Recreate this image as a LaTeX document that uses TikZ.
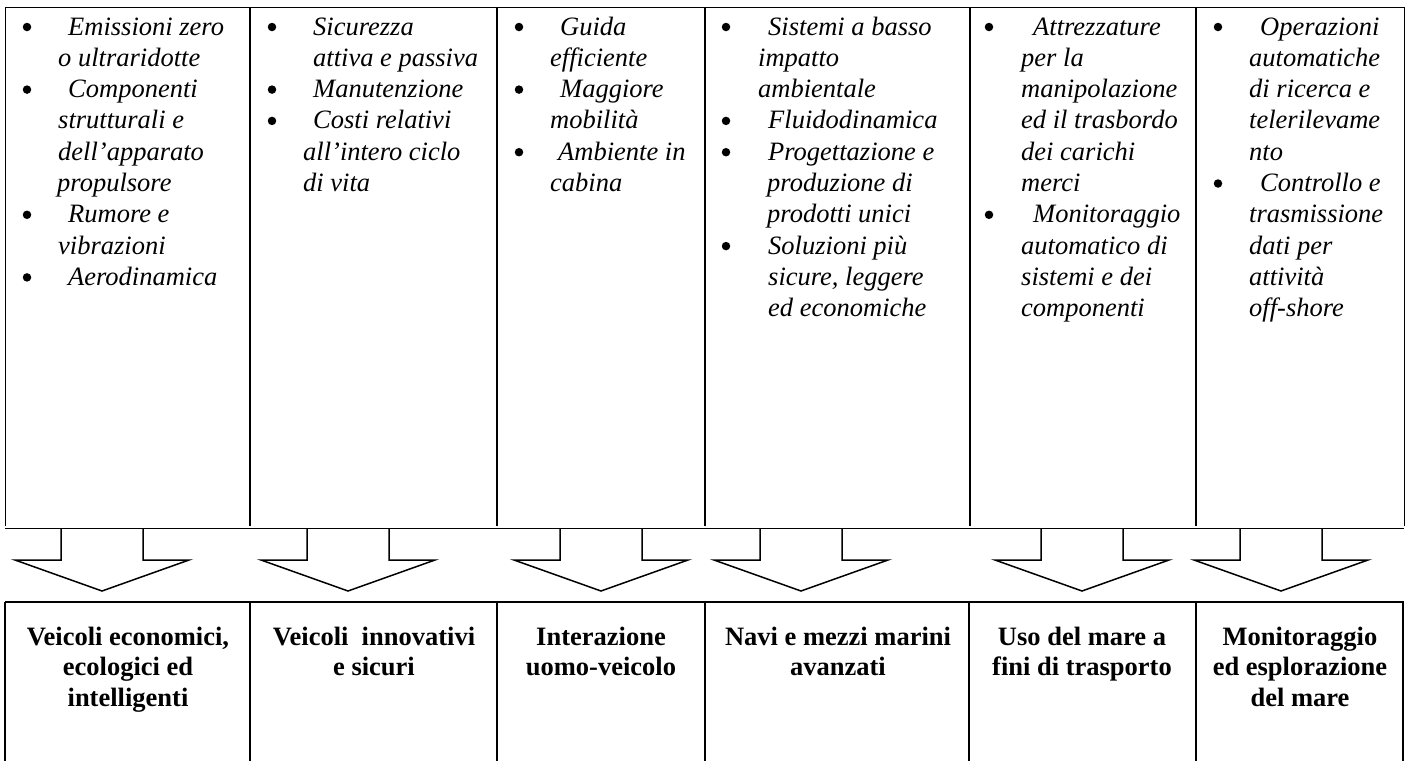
\documentclass[tikz,border=0pt]{standalone}
\usepackage{fontspec}
\setmainfont{Liberation Serif}
\newcommand{\itline}[4]{\node[itxt] (#1) at (#2,#3) {#4};}
\newcommand{\bulat}[3]{\node[bul] (#1) at (#2,#3-8) {};}
\newcommand{\bdline}[4]{\node[btxt] (#1) at (#2,#3) {#4};}
\begin{document}
\begin{tikzpicture}[x=1pt,y=-1pt,
 itxt/.style={anchor=base west,inner sep=0pt,font=\fontsize{26.5}{31}\selectfont\itshape},
 btxt/.style={anchor=base,inner sep=0pt,font=\fontsize{26.5}{31}\selectfont\bfseries},
 bul/.style={circle,fill=black,inner sep=0pt,minimum size=8.5pt},
 thinrule/.style={line width=1pt},
 seprule/.style={line width=2pt},
 blockarrow/.style={draw,line width=1.5pt,fill=white,line join=miter}]
\useasboundingbox (0,0) rectangle (1409,761);
% block arrows
\foreach \c [count=\i] in {102,348,601,801,1082,1281} {
  \coordinate (a\i) at (\c,591);
  \draw[blockarrow] (\c-41,528) -- (\c-41,560) -- (\c-87,560) -- (a\i) -- (\c+87,560) -- (\c+41,560) -- (\c+41,528);
}
% upper table
\draw[thinrule] (5,7) -- (1404,7);
\draw[thinrule] (5,528) -- (1404,528);
\draw[thinrule] (5,7) -- (5,526);
\draw[thinrule] (1404,7) -- (1404,526);
\foreach \x in {250,497,705,970,1196} \draw[seprule] (\x,7) -- (\x,526);
% lower table
\draw[seprule] (5,602) -- (1404,602);
\foreach \x in {5,250,497,705,969,1196,1403} \draw[seprule] (\x,602) -- (\x,761);
% column 1
\bulat{b11}{27}{35} \itline{c1l1}{68}{35}{Emissioni zero}
\itline{c1l2}{58}{66.3}{o ultraridotte}
\bulat{b12}{27}{97.6} \itline{c1l3}{68}{97.6}{Componenti}
\itline{c1l4}{58}{128.9}{strutturali e}
\itline{c1l5}{58}{160.2}{dell’apparato}
\itline{c1l6}{57}{191.5}{propulsore}
\bulat{b13}{27}{222.8} \itline{c1l7}{68}{222.8}{Rumore e}
\itline{c1l8}{58}{254.1}{vibrazioni}
\bulat{b14}{27}{285.4} \itline{c1l9}{68}{285.4}{Aerodinamica}
% column 2
\bulat{b21}{272}{35} \itline{c2l1}{313}{35}{Sicurezza}
\itline{c2l2}{313}{66.3}{attiva e passiva}
\bulat{b22}{272}{97.6} \itline{c2l3}{313}{97.6}{Manutenzione}
\bulat{b23}{272}{128.9} \itline{c2l4}{313}{128.9}{Costi relativi}
\itline{c2l5}{303}{160.2}{all’intero ciclo}
\itline{c2l6}{303}{191.5}{di vita}
% column 3
\bulat{b31}{519}{35} \itline{c3l1}{560}{35}{Guida}
\itline{c3l2}{550}{66.3}{efficiente}
\bulat{b32}{519}{97.6} \itline{c3l3}{560}{97.6}{Maggiore}
\itline{c3l4}{550}{128.9}{mobilità}
\bulat{b33}{519}{160.2} \itline{c3l5}{558}{160.2}{Ambiente in}
\itline{c3l6}{550}{191.5}{cabina}
% column 4
\bulat{b41}{726}{35} \itline{c4l1}{768}{35}{Sistemi a basso}
\itline{c4l2}{758}{66.3}{impatto}
\itline{c4l3}{758}{97.6}{ambientale}
\bulat{b42}{726}{128.9} \itline{c4l4}{768}{128.9}{Fluidodinamica}
\bulat{b43}{726}{160.2} \itline{c4l5}{768}{160.2}{Progettazione e}
\itline{c4l6}{767}{191.5}{produzione di}
\itline{c4l7}{767}{222.8}{prodotti unici}
\bulat{b44}{726}{254.1} \itline{c4l8}{768}{254.1}{Soluzioni più}
\itline{c4l9}{768}{285.4}{sicure, leggere}
\itline{c4l10}{768}{316.7}{ed economiche}
% column 5
\bulat{b51}{989}{35} \itline{c5l1}{1033}{35}{Attrezzature}
\itline{c5l2}{1021}{66.3}{per la}
\itline{c5l3}{1021}{97.6}{manipolazione}
\itline{c5l4}{1021}{128.9}{ed il trasbordo}
\itline{c5l5}{1021}{160.2}{dei carichi}
\itline{c5l6}{1021}{191.5}{merci}
\bulat{b52}{989}{222.8} \itline{c5l7}{1033}{222.8}{Monitoraggio}
\itline{c5l8}{1021}{254.1}{automatico di}
\itline{c5l9}{1021}{285.4}{sistemi e dei}
\itline{c5l10}{1021}{316.7}{componenti}
% column 6
\bulat{b61}{1218}{35} \itline{c6l1}{1260}{35}{Operazioni}
\itline{c6l2}{1249}{66.3}{automatiche}
\itline{c6l3}{1249}{97.6}{di ricerca e}
\itline{c6l4}{1249}{128.9}{telerilevame}
\itline{c6l5}{1249}{160.2}{nto}
\bulat{b62}{1218}{191.5} \itline{c6l6}{1260}{191.5}{Controllo e}
\itline{c6l7}{1249}{222.8}{trasmissione}
\itline{c6l8}{1249}{254.1}{dati per}
\itline{c6l9}{1249}{285.4}{attività}
\itline{c6l10}{1249}{316.7}{off-shore}
% bottom labels
\bdline{d1a}{128}{645}{Veicoli economici,}
\bdline{d1b}{128}{675.5}{ecologici ed}
\bdline{d1c}{128}{706}{intelligenti}
\bdline{d2a}{374}{645}{Veicoli\ \ innovativi}
\bdline{d2b}{374}{675.5}{e sicuri}
\bdline{d3a}{601}{645}{Interazione}
\bdline{d3b}{601}{675.5}{uomo-veicolo}
\bdline{d4a}{838}{645}{Navi e mezzi marini}
\bdline{d4b}{838}{675.5}{avanzati}
\bdline{d5a}{1082}{645}{Uso del mare a}
\bdline{d5b}{1082}{675.5}{fini di trasporto}
\bdline{d6a}{1300}{645}{Monitoraggio}
\bdline{d6b}{1300}{675.5}{ed esplorazione}
\bdline{d6c}{1300}{706}{del mare}
\end{tikzpicture}
\end{document}
